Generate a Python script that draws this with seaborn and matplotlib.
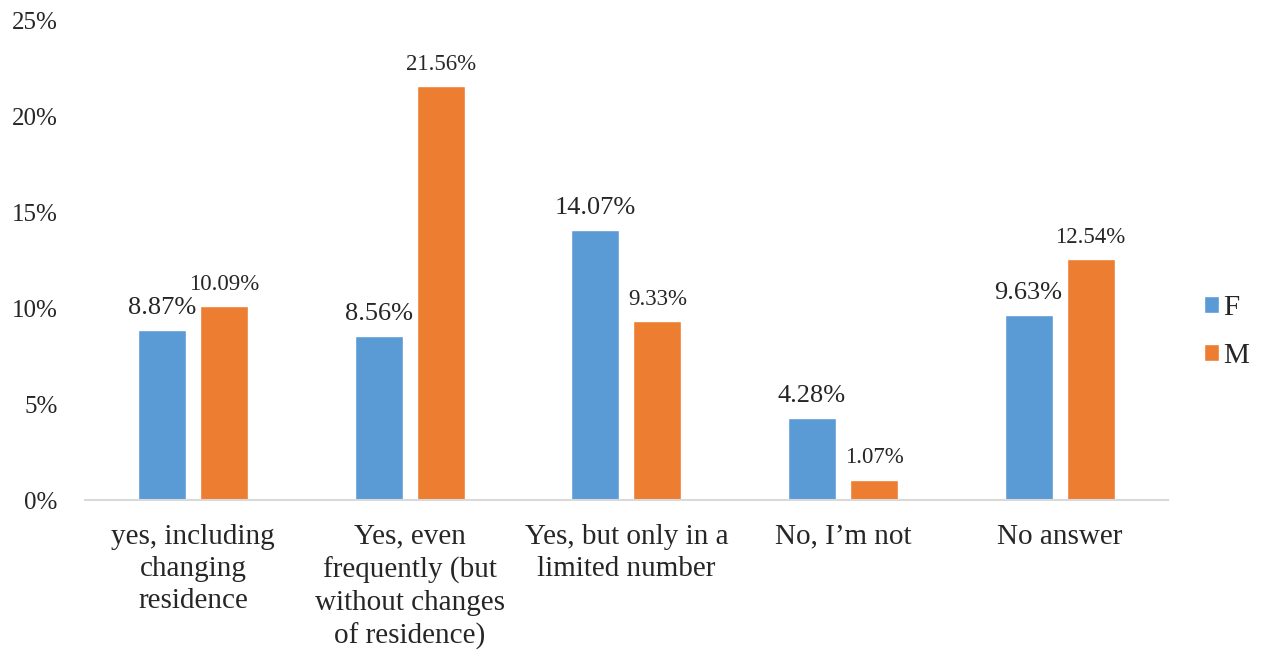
import numpy as np
import pandas as pd
import matplotlib
matplotlib.use("Agg")
import matplotlib.pyplot as plt
from matplotlib.ticker import FuncFormatter
import seaborn as sns

categories = ["yes, including\nchanging\nresidence",
              "Yes, even\nfrequently (but\nwithout changes\nof residence)",
              "Yes, but only in a\nlimited number",
              "No, I\u2019m not",
              "No answer"]
f_values = [8.87, 8.56, 14.07, 4.28, 9.63]
m_values = [10.09, 21.56, 9.33, 1.07, 12.54]
genders = ["F", "M"]
colors = ["#5B9BD5", "#ED7D31"]

df = pd.DataFrame({
    "category": categories * 2,
    "gender": ["F"] * 5 + ["M"] * 5,
    "value": f_values + m_values,
})

sns.set_style("white")
plt.rcParams["font.family"] = ["Liberation Serif", "DejaVu Serif"]

fig = plt.figure(figsize=(12.68, 6.52), dpi=100)
ax = fig.add_axes([0.067, 0.233, 0.854, 0.736])

sns.barplot(data=df, x="category", y="value", hue="gender", order=categories,
            hue_order=genders, palette=colors, width=0.572, gap=0.225,
            saturation=1, ax=ax)

label_sizes = {"F": 19, "M": 16.5}
for cont, g in zip(ax.containers, genders):
    ax.bar_label(cont, labels=[f"{v:.2f}%" for v in cont.datavalues],
                 padding=8, fontsize=label_sizes[g])

ax.set_ylim(0, 25)
ax.set_yticks([0, 5, 10, 15, 20, 25])
ax.yaxis.set_major_formatter(FuncFormatter(lambda v, p: f"{v:.0f}%"))
ax.set_xlim(-0.5, 4.5)
ax.set_xlabel("")
ax.set_ylabel("")
ax.tick_params(axis="y", labelsize=18, length=0, pad=19.5)
ax.tick_params(axis="x", labelsize=21, length=0, pad=17)
for lbl in ax.get_xticklabels():
    lbl.set_linespacing(1.32)
    lbl.set_va("top")

for s in ["top", "right", "left"]:
    ax.spines[s].set_visible(False)
ax.spines["bottom"].set_color("#D9D9D9")
ax.spines["bottom"].set_linewidth(1.5)

leg = ax.legend(loc="center left", bbox_to_anchor=(1.009, 0.35), frameon=False,
                fontsize=21, handlelength=0.52, handleheight=0.52,
                handletextpad=0.15, labelspacing=0.75)

fig.savefig("out.png", dpi=100)
